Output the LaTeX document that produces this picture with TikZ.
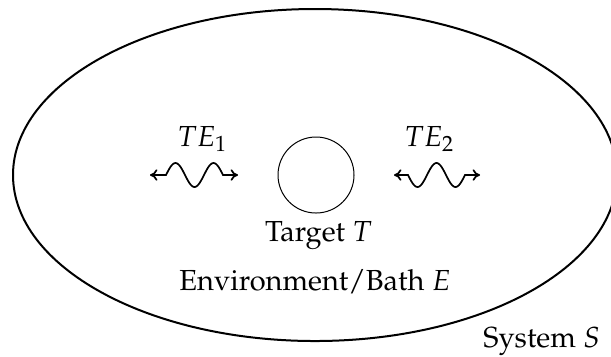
\documentclass[tikz,border=0pt]{standalone}
\usepackage[T1]{fontenc}
\usepackage{mathpazo}
\usetikzlibrary{arrows.meta}
\tikzset{
  sysline/.style={line width=0.7pt},
  tgtline/.style={line width=0.35pt},
  wave/.style={line width=0.6pt, {To[length=2.6pt,width=4pt]}-{To[length=2.6pt,width=4pt]}},
  lbl/.style={anchor=base, inner sep=0pt, font=\fontsize{10.15}{12}\selectfont}
}
\begin{document}
\begin{tikzpicture}[x=0.35pt, y=-0.35pt]
  \useasboundingbox (0,0) rectangle (611,356);
  % system ellipse
  \draw[sysline] (315,175) ellipse [x radius=302, y radius=166];
  % target circle
  \node[tgtline, draw, circle, minimum size=76*0.35pt, inner sep=0pt] (target) at (316,175) {};
  % waves
  \coordinate (w1a) at (150,175);
  \coordinate (w1b) at (238,175);
  \coordinate (w2a) at (394,175);
  \coordinate (w2b) at (480,175);
  \draw[wave] (w1a) -- (166,175)
     -- plot[domain=0:57, samples=50, smooth] ({166+\x}, {175 - 12*sin(\x*9.4737)})
     -- (w1b);
  \draw[wave] (w2a) -- (408,175)
     -- plot[domain=0:57, samples=50, smooth] ({408+\x}, {175 + 12*sin(\x*9.4737)})
     -- (w2b);
  % labels
  \node[lbl] (te1) at (202.5,146.3) {$TE_1$};
  \node[lbl] (te2) at (429.5,146.3) {$TE_2$};
  \node[lbl] (tlabel) at (318.5,241) {Target $T$};
  \node[lbl] (elabel) at (315,290.3) {Environment/Bath $E$};
  \node[lbl] (slabel) at (541.7,347.7) {System $S$};
\end{tikzpicture}
\end{document}
